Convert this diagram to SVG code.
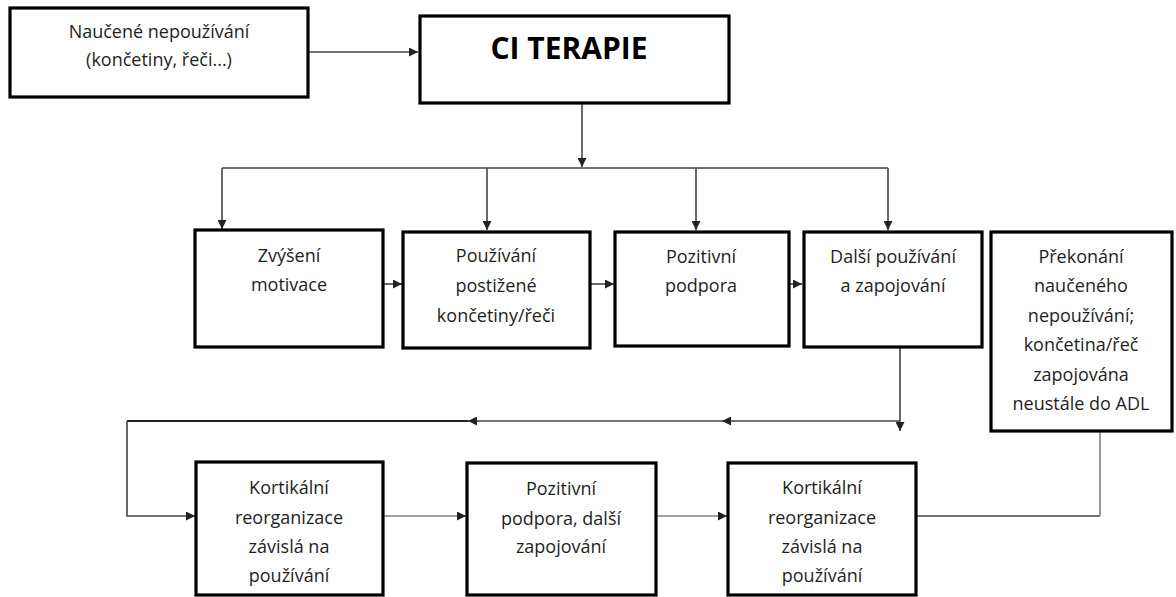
<svg xmlns="http://www.w3.org/2000/svg" width="1176" height="597" viewBox="0 0 1176 597">
<style>
.box{fill:#fff;stroke:#000;stroke-width:3.2}
.t{font-family:"Open Sans","Liberation Sans",sans-serif;font-size:18px;fill:#1e1e1e;text-anchor:middle}
.tb{font-family:"Open Sans","Liberation Sans",sans-serif;font-size:30px;font-weight:bold;fill:#000;text-anchor:middle}
.c{fill:none;stroke:#444;stroke-width:1.6}
.cl{fill:none;stroke:#808080;stroke-width:1.6}
.cd{fill:none;stroke:#222;stroke-width:2}
</style>
<defs>
<marker id="ah" viewBox="0 0 10 10" refX="10" refY="5" markerWidth="9" markerHeight="9" markerUnits="userSpaceOnUse" orient="auto">
<path d="M0,0 L10,5 L0,10 z" fill="#222"/>
</marker>
</defs>
<g id="connectors">
<path class="c" d="M308,52 H418" marker-end="url(#ah)"/>
<path class="c" d="M582,103 V167" marker-end="url(#ah)"/>
<path class="c" d="M222,168 H888"/>
<path class="c" d="M222,168 V229" marker-end="url(#ah)"/>
<path class="c" d="M487,168 V230" marker-end="url(#ah)"/>
<path class="c" d="M696,168 V230" marker-end="url(#ah)"/>
<path class="c" d="M888,168 V230" marker-end="url(#ah)"/>
<path class="c" d="M383,284 H402" marker-end="url(#ah)"/>
<path class="c" d="M590,284 H614" marker-end="url(#ah)"/>
<path class="c" d="M789,284 H802" marker-end="url(#ah)"/>
<path class="c" d="M900,347 V431" marker-end="url(#ah)"/>
<path class="c" d="M900,421 H722" marker-end="url(#ah)"/>
<path class="c" d="M722,421 H468" marker-end="url(#ah)"/>
<path class="cd" d="M468,421 H127"/>
<path class="c" d="M127,421 V516 H195" marker-end="url(#ah)"/>
<path class="cl" d="M383,516 H466" marker-end="url(#ah)"/>
<path class="cl" d="M656,516 H727" marker-end="url(#ah)"/>
<path class="c" d="M916,516 H1100"/>
<path class="cl" d="M1100,516 V431"/>
</g>
<g id="n_naucene">
<rect class="box" x="10" y="8" width="298" height="89"/>
<text class="t" x="159" y="38">Naučené nepoužívání</text>
<text class="t" x="159" y="66">(končetiny, řeči...)</text>
</g>
<g id="n_ci">
<rect class="box" x="420" y="16" width="309" height="87"/>
<text class="tb" x="569" y="59">CI TERAPIE</text>
</g>
<g id="n_zvyseni">
<rect class="box" x="195" y="230" width="188" height="117"/>
<text class="t" x="289" y="262">Zvýšení</text>
<text class="t" x="289" y="291">motivace</text>
</g>
<g id="n_pouzivani">
<rect class="box" x="403" y="232" width="187" height="116"/>
<text class="t" x="496" y="262">Používání</text>
<text class="t" x="496" y="292">postižené</text>
<text class="t" x="496" y="322">končetiny/řeči</text>
</g>
<g id="n_pozitivni">
<rect class="box" x="615" y="232" width="174" height="114"/>
<text class="t" x="701" y="263">Pozitivní</text>
<text class="t" x="701" y="292">podpora</text>
</g>
<g id="n_dalsi">
<rect class="box" x="804" y="232" width="178" height="115"/>
<text class="t" x="893" y="263">Další používání</text>
<text class="t" x="893" y="292">a zapojování</text>
</g>
<g id="n_prekonani">
<rect class="box" x="991" y="232" width="181" height="199"/>
<text class="t" x="1081" y="263">Překonání</text>
<text class="t" x="1081" y="292">naučeného</text>
<text class="t" x="1081" y="322">nepoužívání;</text>
<text class="t" x="1081" y="351">končetina/řeč</text>
<text class="t" x="1081" y="381">zapojována</text>
<text class="t" x="1081" y="410">neustále do ADL</text>
</g>
<g id="n_kort1">
<rect class="box" x="196" y="462" width="187" height="133"/>
<text class="t" x="289" y="494">Kortikální</text>
<text class="t" x="289" y="524">reorganizace</text>
<text class="t" x="289" y="553">závislá na</text>
<text class="t" x="289" y="582">používání</text>
</g>
<g id="n_pozit2">
<rect class="box" x="467" y="463" width="189" height="132"/>
<text class="t" x="561" y="495">Pozitivní</text>
<text class="t" x="561" y="525">podpora, další</text>
<text class="t" x="561" y="553">zapojování</text>
</g>
<g id="n_kort2">
<rect class="box" x="728" y="463" width="188" height="132"/>
<text class="t" x="822" y="494">Kortikální</text>
<text class="t" x="822" y="524">reorganizace</text>
<text class="t" x="822" y="553">závislá na</text>
<text class="t" x="822" y="582">používání</text>
</g>
</svg>
